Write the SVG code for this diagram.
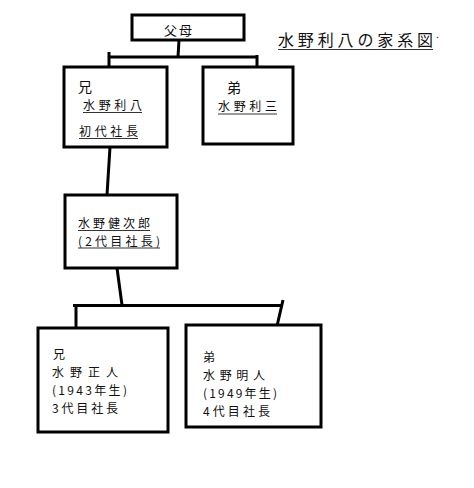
<svg xmlns="http://www.w3.org/2000/svg" width="474" height="488" viewBox="0 0 474 488">
<style>
.box{fill:#fff;stroke:#000;stroke-width:3}
.con{fill:none;stroke:#000;stroke-width:3}
.ul{stroke:#333;stroke-width:1}
text{font-family:"Noto Sans CJK JP","Noto Sans",sans-serif;font-size:12px;fill:#111}
.big{font-size:14px}
</style>
<rect width="474" height="488" fill="#fff"/>
<g id="connectors">
<path class="con" d="M179 40 L178 57 M109 57 H257 M109 52 V67 M257 55 V70"/>
<path class="con" d="M110 147 L107 195"/>
<path class="con" d="M117 268 L122 305 M73 305.5 H283 M76 305 V333 M283 300 L277 326"/>
</g>
<g id="title">
<text x="278" y="46" textLength="155" lengthAdjust="spacing" style="font-size:16px">水野利八の家系図</text>
<line class="ul" x1="278" y1="49.5" x2="433" y2="49.5"/>
<circle cx="437.5" cy="37.5" r="0.8" fill="#555"/>
</g>
<g id="parents">
<rect class="box" x="132" y="15" width="112" height="25"/>
<text x="164" y="35" textLength="28" lengthAdjust="spacing" style="font-size:13px">父母</text>
</g>
<g id="elder">
<rect class="box" x="64" y="67" width="103" height="80"/>
<text class="big" x="78" y="92">兄</text>
<text x="83" y="110" textLength="59" lengthAdjust="spacing">水野利八</text>
<line class="ul" x1="83" y1="112.5" x2="142" y2="112.5"/>
<text x="79" y="136" textLength="59" lengthAdjust="spacing">初代社長</text>
<line class="ul" x1="79" y1="138.5" x2="138" y2="138.5"/>
</g>
<g id="younger">
<rect class="box" x="203" y="67" width="90" height="77"/>
<text class="big" x="227" y="93">弟</text>
<text x="218" y="111" textLength="59" lengthAdjust="spacing">水野利三</text>
<line class="ul" x1="218" y1="114" x2="277" y2="114"/>
</g>
<g id="kenjiro">
<rect class="box" x="65" y="195" width="112" height="73"/>
<text x="78" y="227.5" textLength="72" lengthAdjust="spacing">水野健次郎</text>
<line class="ul" x1="78" y1="230.5" x2="150" y2="230.5"/>
<text x="78" y="245.5" textLength="82" lengthAdjust="spacing">(2代目社長)</text>
<line class="ul" x1="78" y1="248" x2="160" y2="248"/>
</g>
<g id="masato">
<rect class="box" x="38" y="328" width="130" height="104"/>
<text x="53" y="359">兄</text>
<text x="52" y="377" textLength="66" lengthAdjust="spacing">水野正人</text>
<text x="52" y="395" textLength="75" lengthAdjust="spacing">(1943年生)</text>
<text x="52" y="413" textLength="66" lengthAdjust="spacing">3代目社長</text>
</g>
<g id="akito">
<rect class="box" x="186" y="325" width="135" height="102"/>
<text x="203" y="362">弟</text>
<text x="203" y="380" textLength="62" lengthAdjust="spacing">水野明人</text>
<text x="203" y="398" textLength="74" lengthAdjust="spacing">(1949年生)</text>
<text x="203" y="416" textLength="67" lengthAdjust="spacing">4代目社長</text>
</g>
</svg>
